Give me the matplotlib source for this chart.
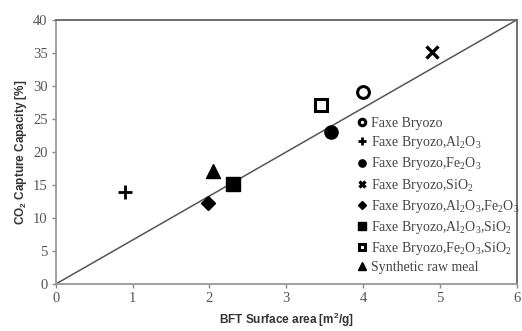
import matplotlib
matplotlib.use("Agg")
import matplotlib.pyplot as plt

plt.rcParams['mathtext.default'] = 'regular'

# Samples: BET surface area [m2/g] vs CO2 capture capacity [%]
labels = [
    "Faxe Bryozo",
    "Faxe Bryozo,Al$_2$O$_3$",
    "Faxe Bryozo,Fe$_2$O$_3$",
    "Faxe Bryozo,SiO$_2$",
    "Faxe Bryozo,Al$_2$O$_3$,Fe$_2$O$_3$",
    "Faxe Bryozo,Al$_2$O$_3$,SiO$_2$",
    "Faxe Bryozo,Fe$_2$O$_3$,SiO$_2$",
    "Synthetic raw meal",
]
bet_area = [4.0, 0.9, 3.58, 4.9, 1.98, 2.31, 3.45, 2.05]
capture = [29.0, 14.0, 23.0, 35.2, 12.2, 15.1, 27.1, 17.1]

trend_x = [0, 6]
trend_y = [0, 40]

x_ticks = [0, 1, 2, 3, 4, 5, 6]
y_ticks = [0, 5, 10, 15, 20, 25, 30, 35, 40]

styles = [
    dict(marker='o', mfc='white', mec='black', mew=2.2, ms=8.5),
    dict(marker='+', mfc='black', mec='black', mew=2.0, ms=10),
    dict(marker='o', mfc='black', mec='black', mew=1, ms=9.5),
    dict(marker='x', mfc='black', mec='black', mew=2.4, ms=9),
    dict(marker='D', mfc='black', mec='black', mew=1, ms=7),
    dict(marker='s', mfc='black', mec='black', mew=1, ms=10),
    dict(marker='s', mfc='white', mec='black', mew=2.2, ms=9),
    dict(marker='^', mfc='black', mec='black', mew=1, ms=9.5),
]

fig = plt.figure(figsize=(5.22, 3.31), dpi=100)
ax = fig.add_axes([0.107, 0.142, 0.883, 0.798])

ax.plot(trend_x, trend_y, color='#555555', lw=1.1, zorder=1)

for lab, x, y, st in zip(labels, bet_area, capture, styles):
    ax.plot([x], [y], linestyle='none', label=lab, zorder=3, **st)

ax.set_xlim(0, 6)
ax.set_ylim(0, 40)
ax.set_xticks(x_ticks)
ax.set_yticks(y_ticks)

serif = ['Liberation Serif', 'DejaVu Serif']
for t in ax.get_xticklabels() + ax.get_yticklabels():
    t.set_family(serif)
    t.set_fontsize(10.5)
    t.set_color('#555555')

ax.tick_params(axis='both', direction='out', length=3, width=1, color='#888888', pad=3)

for side in ['left', 'bottom']:
    ax.spines[side].set_color('#999999')
    ax.spines[side].set_linewidth(1.3)
for side in ['top', 'right']:
    ax.spines[side].set_color('#666666')
    ax.spines[side].set_linewidth(1.3)

ax.set_xlabel("BFT Surface area [m$^2$/g]", family=['Liberation Sans', 'DejaVu Sans'],
              fontweight='bold', fontsize=8.5, color='#333333', labelpad=4)
ax.set_ylabel("CO$_2$ Capture Capacity [%]", family=['Liberation Sans', 'DejaVu Sans'],
              fontweight='bold', fontsize=8.5, color='#333333', labelpad=3)

leg = ax.legend(loc='lower left', bbox_to_anchor=(0.635, 0.0), frameon=False,
                prop={'family': serif, 'size': 10}, markerscale=0.55,
                handlelength=0.6, handletextpad=0.35, labelspacing=0.30,
                borderaxespad=0.3)
for t in leg.get_texts():
    t.set_color('#444444')

fig.savefig('out.png', dpi=100)
